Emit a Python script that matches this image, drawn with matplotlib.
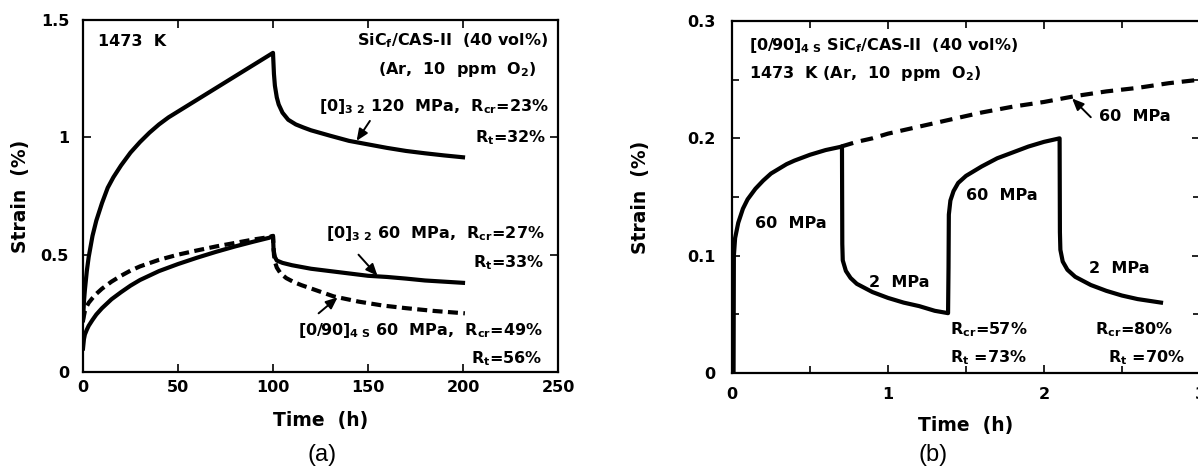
import matplotlib
matplotlib.use("Agg")
import matplotlib.pyplot as plt

plt.rcParams['font.family'] = ['DejaVu Sans']
plt.rcParams['font.weight'] = 'bold'
plt.rcParams['mathtext.fontset'] = 'custom'
plt.rcParams['mathtext.rm'] = 'DejaVu Sans:bold'
plt.rcParams['mathtext.bf'] = 'DejaVu Sans:bold'
plt.rcParams['mathtext.it'] = 'DejaVu Sans:bold'
plt.rcParams['mathtext.default'] = 'rm'

# ---- panel (a) data: time (h) / strain (%)
t_120 = [0, 0.5, 1, 2, 3, 5, 7, 10, 13, 16, 20, 25, 30, 35, 40, 45, 50, 55, 60, 65,
         70, 75, 80, 85, 90, 95, 100,
         100.5, 101, 102, 103, 105, 108, 112, 116, 120, 130, 140, 150, 160, 170, 180, 190, 200]
e_120 = [0.22, 0.3, 0.35, 0.43, 0.49, 0.58, 0.645, 0.72, 0.785, 0.83, 0.88, 0.935, 0.98, 1.02, 1.055, 1.085, 1.11, 1.135, 1.16, 1.185,
         1.21, 1.235, 1.26, 1.285, 1.31, 1.335, 1.36,
         1.27, 1.22, 1.17, 1.14, 1.105, 1.075, 1.055, 1.042, 1.03, 1.007, 0.985, 0.97, 0.955, 0.942, 0.932, 0.923, 0.915]

t_60 = [0, 0.5, 1, 2, 3, 5, 7, 10, 15, 20, 25, 30, 40, 50, 60, 70, 80, 90, 98, 100,
        100.3, 101, 102, 105, 110, 120, 130, 140, 150, 160, 170, 180, 190, 200]
e_60 = [0.1, 0.14, 0.16, 0.18, 0.197, 0.222, 0.245, 0.272, 0.31, 0.34, 0.368, 0.392, 0.43, 0.46, 0.487, 0.512, 0.535, 0.556, 0.572, 0.58,
        0.52, 0.49, 0.475, 0.465, 0.455, 0.44, 0.43, 0.42, 0.41, 0.405, 0.398, 0.39, 0.385, 0.38]

t_090 = [0, 1, 2, 3, 5, 7, 10, 15, 20, 25, 30, 40, 50, 60, 70, 80, 90, 98, 100,
         100.5, 101, 102, 104, 107, 111, 115, 120, 132, 145, 158, 170, 185, 201]
e_090 = [0.22, 0.26, 0.28, 0.295, 0.315, 0.333, 0.355, 0.385, 0.41, 0.432, 0.45, 0.478, 0.5, 0.518, 0.535, 0.55, 0.565, 0.575, 0.58,
         0.5, 0.47, 0.445, 0.42, 0.40, 0.383, 0.37, 0.356, 0.322, 0.3, 0.283, 0.272, 0.26, 0.25]

a_xticks = [0, 50, 100, 150, 200, 250]
a_xlabels = ['0', '50', '100', '150', '200', '250']
a_yticks = [0, 0.5, 1, 1.5]
a_ylabels = ['0', '0.5', '1', '1.5']

# ---- panel (b) data
t_cyc = [0.01, 0.012, 0.02, 0.04, 0.07, 0.1, 0.15, 0.2, 0.25, 0.3, 0.35, 0.4, 0.5, 0.6, 0.705,
         0.707, 0.71, 0.73, 0.76, 0.8, 0.9, 1.0, 1.1, 1.2, 1.3, 1.385,
         1.388, 1.39, 1.40, 1.42, 1.45, 1.5, 1.6, 1.7, 1.8, 1.9, 2.0, 2.1,
         2.102, 2.105, 2.12, 2.15, 2.2, 2.3, 2.4, 2.5, 2.6, 2.75]
e_cyc = [0, 0.1, 0.115, 0.128, 0.14, 0.148, 0.157, 0.164, 0.17, 0.174, 0.178, 0.181, 0.186, 0.19, 0.193,
         0.11, 0.096, 0.087, 0.081, 0.076, 0.069, 0.064, 0.06, 0.057, 0.053, 0.051,
         0.09, 0.135, 0.147, 0.155, 0.162, 0.168, 0.176, 0.183, 0.188, 0.193, 0.197, 0.2,
         0.12, 0.105, 0.095, 0.088, 0.082, 0.075, 0.07, 0.066, 0.063, 0.06]

t_cont = [0.7, 0.8, 0.9, 1.0, 1.2, 1.4, 1.6, 1.8, 2.0, 2.2, 2.4, 2.6, 2.8, 3.0]
e_cont = [0.193, 0.197, 0.2, 0.204, 0.21, 0.216, 0.222, 0.227, 0.231, 0.236, 0.24, 0.243, 0.247, 0.25]

b_xticks = [0, 1, 2, 3]
b_xlabels = ['0', '1', '2', '3']
b_yticks = [0, 0.1, 0.2, 0.3]
b_ylabels = ['0', '0.1', '0.2', '0.3']

W, H = 1198, 470
fig = plt.figure(figsize=(W / 100, H / 100), dpi=100)
ax1 = fig.add_axes([83 / W, (H - 372) / H, 475 / W, 352 / H])
ax2 = fig.add_axes([732 / W, (H - 373) / H, 468 / W, 352 / H])

LW = 3.0
TXT = dict(fontsize=11.5, fontweight='bold')


def style(ax, xpad, ypad):
    for s in ax.spines.values():
        s.set_linewidth(1.6)
    ax.tick_params(direction='in', which='both', top=True, right=True,
                   width=1.2, labelsize=11.5)
    ax.tick_params(axis='x', pad=xpad)
    ax.tick_params(axis='y', pad=ypad)
    ax.tick_params(which='major', length=6)
    ax.tick_params(which='minor', length=5)
    for lab in ax.get_xticklabels() + ax.get_yticklabels():
        lab.set_fontweight('bold')


def arrow(ax, tail, head):
    ax.annotate('', xy=head, xytext=tail,
                arrowprops=dict(arrowstyle='-|>,head_length=0.7,head_width=0.3',
                                lw=1.4, color='black', shrinkA=0, shrinkB=0))


# ---- (a)
ax1.plot(t_120, e_120, color='black', lw=LW, solid_joinstyle='round')
ax1.plot(t_60, e_60, color='black', lw=LW, solid_joinstyle='round')
ax1.plot(t_090, e_090, color='black', lw=LW, ls=(0, (2.4, 1.3)))
ax1.set_xlim(0, 250)
ax1.set_ylim(0, 1.5)
ax1.set_xticks(a_xticks)
ax1.set_xticklabels(a_xlabels)
ax1.set_yticks(a_yticks)
ax1.set_yticklabels(a_ylabels)
style(ax1, 6, 10)
ax1.set_xlabel('Time  (h)', fontsize=13.5, fontweight='bold')
ax1.set_ylabel('Strain  (%)', fontsize=13.5, fontweight='bold')
ax1.xaxis.set_label_coords(0.5, (372 - 411) / 352)
ax1.yaxis.set_label_coords((30 - 83) / 475, 0.5)

ax1.text(8, 1.41, '1473  K', ha='left', va='center', **TXT)
ax1.text(245, 1.41, r'SiC$_\mathrm{f}$/CAS-II  (40 vol%)', ha='right', va='center', **TXT)
ax1.text(239, 1.29, r'(Ar,  10  ppm  O$_2$)', ha='right', va='center', **TXT)
ax1.text(245, 1.13, r'[0]$_{3\ 2}$ 120  MPa,  R$_{cr}$=23%', ha='right', va='center', **TXT)
ax1.text(244, 1.0, r'R$_t$=32%', ha='right', va='center', **TXT)
ax1.text(243, 0.59, r'[0]$_{3\ 2}$ 60  MPa,  R$_{cr}$=27%', ha='right', va='center', **TXT)
ax1.text(243, 0.465, r'R$_t$=33%', ha='right', va='center', **TXT)
ax1.text(242, 0.175, r'[0/90]$_{4\ S}$ 60  MPa,  R$_{cr}$=49%', ha='right', va='center', **TXT)
ax1.text(242, 0.055, r'R$_t$=56%', ha='right', va='center', **TXT)
arrow(ax1, (151, 1.07), (144, 0.985))
arrow(ax1, (145, 0.50), (155, 0.41))
arrow(ax1, (124, 0.25), (134, 0.318))

# ---- (b)
ax2.plot(t_cyc, e_cyc, color='black', lw=LW, solid_joinstyle='round')
ax2.plot(t_cont, e_cont, color='black', lw=LW, ls=(0, (3.0, 1.9)))
ax2.set_xlim(0, 3)
ax2.set_ylim(0, 0.3)
ax2.set_xticks(b_xticks)
ax2.set_xticklabels(b_xlabels)
ax2.set_yticks(b_yticks)
ax2.set_yticklabels(b_ylabels)
ax2.set_xticks([0.5, 1.5, 2.5], minor=True)
ax2.set_yticks([0.05, 0.15, 0.25], minor=True)
style(ax2, 10, 12)
ax2.set_xlabel('Time  (h)', fontsize=13.5, fontweight='bold')
ax2.set_ylabel('Strain  (%)', fontsize=13.5, fontweight='bold')
ax2.xaxis.set_label_coords(0.5, (373 - 416) / 352)
ax2.yaxis.set_label_coords((650 - 732) / 468, 0.5)

ax2.text(0.11, 0.279, r'[0/90]$_{4\ S}$ SiC$_\mathrm{f}$/CAS-II  (40 vol%)', ha='left', va='center', **TXT)
ax2.text(0.11, 0.255, r'1473  K (Ar,  10  ppm  O$_2$)', ha='left', va='center', **TXT)
ax2.text(2.35, 0.219, '60  MPa', ha='left', va='center', **TXT)
arrow(ax2, (2.3, 0.218), (2.18, 0.234))
ax2.text(0.15, 0.127, '60  MPa', ha='left', va='center', **TXT)
ax2.text(0.88, 0.077, '2  MPa', ha='left', va='center', **TXT)
ax2.text(1.5, 0.151, '60  MPa', ha='left', va='center', **TXT)
ax2.text(2.29, 0.089, '2  MPa', ha='left', va='center', **TXT)
ax2.text(1.4, 0.037, r'R$_{cr}$=57%', ha='left', va='center', **TXT)
ax2.text(1.4, 0.013, r'R$_t$ =73%', ha='left', va='center', **TXT)
ax2.text(2.33, 0.037, r'R$_{cr}$=80%', ha='left', va='center', **TXT)
ax2.text(2.41, 0.013, r'R$_t$ =70%', ha='left', va='center', **TXT)

fig.text(322 / W, 1 - 455 / H, '(a)', ha='center', va='center', fontsize=17,
         fontweight='normal', family='Liberation Sans')
fig.text(933 / W, 1 - 455 / H, '(b)', ha='center', va='center', fontsize=17,
         fontweight='normal', family='Liberation Sans')

fig.savefig('out.png', dpi=100)
